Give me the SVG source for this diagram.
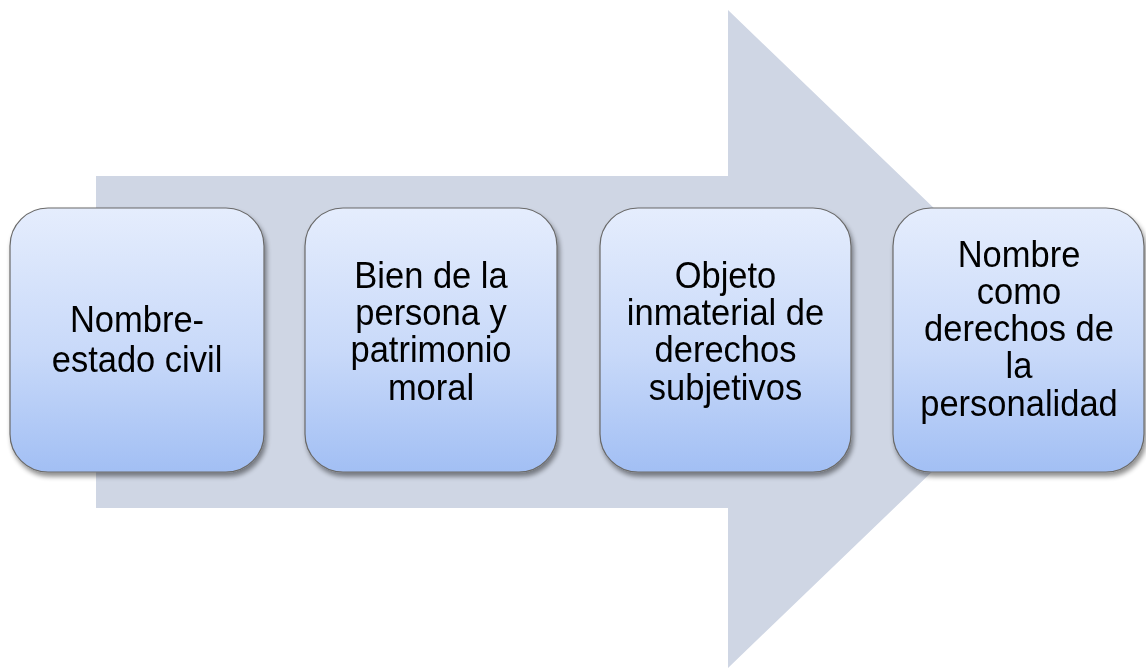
<svg xmlns="http://www.w3.org/2000/svg" width="1146" height="672" viewBox="0 0 1146 672">
<defs>
<linearGradient id="g" x1="0" y1="0" x2="0" y2="1">
<stop offset="0" stop-color="#e5edfd"/>
<stop offset="0.55" stop-color="#c8d9f9"/>
<stop offset="1" stop-color="#a2bff4"/>
</linearGradient>
<filter id="sh" x="-10%" y="-10%" width="125%" height="125%">
<feGaussianBlur in="SourceAlpha" stdDeviation="2.5"/>
<feOffset dx="2" dy="4" result="b"/>
<feComponentTransfer><feFuncA type="linear" slope="0.45"/></feComponentTransfer>
<feMerge><feMergeNode/><feMergeNode in="SourceGraphic"/></feMerge>
</filter>
<style>
.box{fill:url(#g);stroke:#6a6a6a;stroke-width:1.2}
.t{font-family:"Liberation Sans",Arial,sans-serif;font-size:34.5px;fill:#000;text-anchor:middle}
</style>
</defs>
<rect width="1146" height="672" fill="#fff"/>
<g id="arrow">
<polygon points="96,176 728,176 728,10 1070,339 728,668 728,508 96,508" fill="#cfd6e4"/>
</g>
<g id="connectors"></g>
<g id="n1" filter="url(#sh)">
<rect class="box" x="10" y="208" width="254" height="264" rx="38"/>
<text class="t" transform="translate(137,332) scale(1,1.08)">Nombre-</text>
<text class="t" transform="translate(137,372) scale(1,1.08)">estado civil</text>
</g>
<g id="n2" filter="url(#sh)">
<rect class="box" x="305" y="208" width="252" height="264" rx="38"/>
<text class="t" transform="translate(431,288) scale(1,1.08)">Bien de la</text>
<text class="t" transform="translate(431,325) scale(1,1.08)">persona y</text>
<text class="t" transform="translate(431,362) scale(1,1.08)">patrimonio</text>
<text class="t" transform="translate(431,400) scale(1,1.08)">moral</text>
</g>
<g id="n3" filter="url(#sh)">
<rect class="box" x="600" y="208" width="251" height="264" rx="38"/>
<text class="t" transform="translate(725.5,288) scale(1,1.08)">Objeto</text>
<text class="t" transform="translate(725.5,325) scale(1,1.08)">inmaterial de</text>
<text class="t" transform="translate(725.5,362) scale(1,1.08)">derechos</text>
<text class="t" transform="translate(725.5,400) scale(1,1.08)">subjetivos</text>
</g>
<g id="n4" filter="url(#sh)">
<rect class="box" x="893" y="208" width="251" height="264" rx="38"/>
<text class="t" transform="translate(1019,267) scale(1,1.08)">Nombre</text>
<text class="t" transform="translate(1019,304) scale(1,1.08)">como</text>
<text class="t" transform="translate(1019,341) scale(1,1.08)">derechos de</text>
<text class="t" transform="translate(1019,378) scale(1,1.08)">la</text>
<text class="t" transform="translate(1019,416) scale(1,1.08)">personalidad</text>
</g>
</svg>
